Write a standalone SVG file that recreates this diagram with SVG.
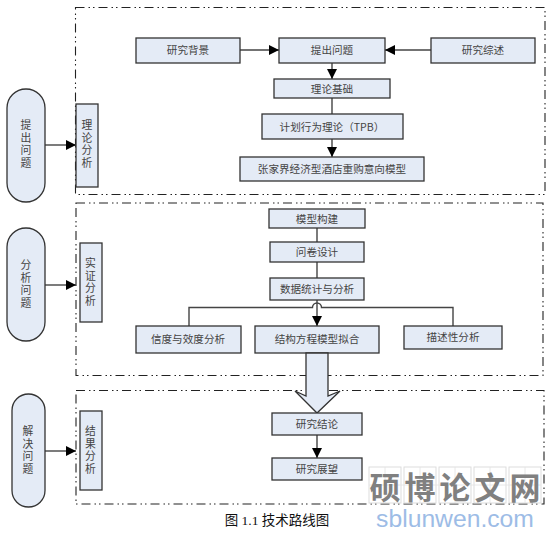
<svg xmlns="http://www.w3.org/2000/svg" width="558" height="538" viewBox="0 0 558 538">
<defs>
<marker id="ah" markerUnits="userSpaceOnUse" markerWidth="11" markerHeight="10" refX="10" refY="5" orient="auto"><path d="M0,0 L10,5 L0,10 Z" fill="#000"/></marker>
</defs>
<style>
text{font-family:"Noto Sans CJK SC","Liberation Serif",serif;fill:#444;font-size:10.600px;text-anchor:middle;dominant-baseline:central}
.v{writing-mode:vertical-rl;font-size:10.800px;letter-spacing:2px}
.b{fill:#e4ebf6;stroke:#333;stroke-width:1.3}
.f{fill:none;stroke:#222;stroke-width:1.1;stroke-dasharray:9 4 1.500 3 1.500 4}
.c{fill:none;stroke:#444;stroke-width:1.400}
.a{marker-end:url(#ah)}
.cap{font-family:"Liberation Serif","Noto Sans CJK SC",serif;fill:#111;font-size:13.500px}
.wm{font-size:31px;fill:#808080;font-weight:700}
.g{fill:#fff;stroke:#ddd;stroke-width:1}
.gl{stroke:#e2e2e2;stroke-width:.8}
.url{font-family:"Liberation Sans",sans-serif;font-size:24.700px;fill:#9dbce6}
</style>
<g id="frames">
<rect class="f" x="75.500" y="7.500" width="469.500" height="187"/>
<rect class="f" x="76" y="203" width="467" height="172.500"/>
<rect class="f" x="76" y="390.500" width="468" height="113.500"/>
</g>
<g id="connectors">
<path class="c a" d="M240,50 H279"/>
<path class="c a" d="M431,50 H385"/>
<path class="c a" d="M332,63 V79"/>
<path class="c" d="M332,98 V114"/>
<path class="c a" d="M332,139 V157"/>
<path class="c a" d="M45,145 H76"/>
<path class="c a" d="M45,285 H76"/>
<path class="c a" d="M45,451 H76"/>
<path class="c" d="M317,228 V242"/>
<path class="c" d="M317,262 V278"/>
<path class="c a" d="M317,300 V326"/>
<path class="c" d="M189,326 V307.500 H312.500 A4.500,4.500 0 0 1 321.500,307.500 H453 V326"/>
<path class="c a" d="M317,435 V458"/>
</g>
<g id="n-bg"><rect class="b" x="136" y="38" width="104" height="25"/><text x="188" y="49.500">研究背景</text></g>
<g id="n-q"><rect class="b" x="279" y="38" width="106" height="25"/><text x="332" y="49.500">提出问题</text></g>
<g id="n-rev"><rect class="b" x="431" y="38" width="104" height="25"/><text x="483" y="49.500">研究综述</text></g>
<g id="n-base"><rect class="b" x="274" y="79" width="116" height="19"/><text x="332" y="88">理论基础</text></g>
<g id="n-tpb"><rect class="b" x="262" y="114" width="141" height="25"/><text x="332" y="126">计划行为理论（TPB）</text></g>
<g id="n-model"><rect class="b" x="240" y="157" width="184" height="24"/><text x="332" y="168.500">张家界经济型酒店重购意向模型</text></g>
<g id="p1"><rect class="b" x="7" y="89" width="38" height="113" rx="19"/><text class="v" x="26" y="145">提出问题</text></g>
<g id="s1"><rect class="b" x="76" y="104" width="22" height="83"/><text class="v" x="87" y="145">理论分析</text></g>
<g id="p2"><rect class="b" x="7" y="228" width="38" height="113" rx="19"/><text class="v" x="26" y="285">分析问题</text></g>
<g id="s2"><rect class="b" x="80" y="243" width="22" height="79"/><text class="v" x="90.500" y="283">实证分析</text></g>
<g id="p3"><rect class="b" x="12" y="394" width="33" height="113" rx="16.500"/><text class="v" x="28" y="451">解决问题</text></g>
<g id="s3"><rect class="b" x="80" y="411" width="22" height="79"/><text class="v" x="90.500" y="451">结果分析</text></g>
<g id="n-build"><rect class="b" x="269" y="209" width="96" height="19"/><text x="317" y="218">模型构建</text></g>
<g id="n-survey"><rect class="b" x="270" y="242" width="94" height="20"/><text x="317" y="251">问卷设计</text></g>
<g id="n-stat"><rect class="b" x="270" y="278" width="94" height="22"/><text x="317" y="288">数据统计与分析</text></g>
<g id="n-rel"><rect class="b" x="136" y="326" width="105" height="27"/><text x="188" y="338.500">信度与效度分析</text></g>
<g id="n-sem"><rect class="b" x="255" y="326" width="124" height="27"/><text x="317" y="338.500">结构方程模型拟合</text></g>
<g id="n-desc"><rect class="b" x="404" y="326" width="98" height="23"/><text x="453" y="336.500">描述性分析</text></g>
<g id="block-arrow"><path class="b" d="M306,353 H328 V396 L340,391 L317,413 L295,391 L306,396 Z"/></g>
<g id="n-con"><rect class="b" x="272" y="413" width="90" height="22"/><text x="317" y="423">研究结论</text></g>
<g id="n-out"><rect class="b" x="272" y="458" width="90" height="22"/><text x="317" y="468">研究展望</text></g>
<text class="cap" x="277" y="520">图 1.1 技术路线图</text>
<g id="watermark">
<rect class="g" x="369" y="467" width="32" height="36"/><rect class="g" x="404" y="467" width="32" height="36"/><rect class="g" x="439" y="467" width="32" height="36"/><rect class="g" x="474" y="467" width="32" height="36"/><rect class="g" x="509" y="467" width="32" height="36"/>
<path class="gl" d="M385,467 V503 M420,467 V503 M455,467 V503 M490,467 V503 M525,467 V503 M369,485 H541"/>
<text class="wm" x="385" y="485">硕</text><text class="wm" x="420" y="485">博</text><text class="wm" x="455" y="485">论</text><text class="wm" x="490" y="485">文</text><text class="wm" x="525" y="485">网</text>
<text class="url" x="455" y="518">sblunwen.com</text>
</g>
</svg>
